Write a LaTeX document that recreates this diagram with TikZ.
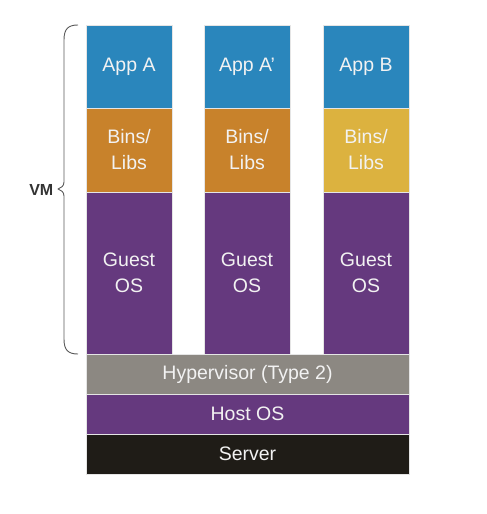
\documentclass[tikz,border=0pt]{standalone}
\usepackage{fontspec}
\setmainfont{Liberation Sans}
\definecolor{appblue}{HTML}{2A86BC}
\definecolor{binorange}{HTML}{C8822B}
\definecolor{binyellow}{HTML}{DCB23F}
\definecolor{ospurple}{HTML}{65397E}
\definecolor{hypgray}{HTML}{8C8882}
\definecolor{srvblack}{HTML}{1F1C17}
\definecolor{txtwhite}{HTML}{F2F2F2}
\definecolor{bracegray}{HTML}{5A5A5A}
\definecolor{vmtext}{HTML}{333333}
\begin{document}
\begin{tikzpicture}[x=1pt,y=-1pt,
  layer/.style={draw=white!80!gray, line width=0.4pt, inner sep=0pt, outer sep=0pt,
    text=txtwhite, font=\fontsize{19.5}{26}\selectfont, align=center, anchor=north west},
]
\useasboundingbox (0,0) rectangle (487,514);
% columns
\foreach \c/\x/\app/\bc in {1/86/App A/binorange, 2/204/App A'/binorange, 3/323/App B/binyellow}{
  \node[layer, fill=appblue, minimum width=86pt, minimum height=83pt] (app\c) at (\x,25) {\app};
  \node[layer, fill=\bc, minimum width=86pt, minimum height=84pt] (bins\c) at (\x,108) {Bins/\\Libs};
  \node[layer, fill=ospurple, minimum width=86pt, minimum height=162pt] (guest\c) at (\x,192) {Guest\\OS};
}
\node[layer, fill=hypgray, minimum width=323pt, minimum height=40pt] (hyp) at (86,354) {Hypervisor (Type 2)};
\node[layer, fill=ospurple, minimum width=323pt, minimum height=40pt] (host) at (86,394) {Host OS};
\node[layer, fill=srvblack, minimum width=323pt, minimum height=40pt] (server) at (86,434) {Server};
% brace
\coordinate (bt) at (78,25);
\coordinate (bb) at (78,354);
\coordinate (tip) at (58,189);
\draw[bracegray, line width=0.9pt, line join=round]
  (bt) .. controls (68,25) and (64,29) .. (64,40) -- (64,182)
  .. controls (64,186) and (61,188) .. (tip)
  .. controls (61,190) and (64,192) .. (64,196) -- (64,339)
  .. controls (64,350) and (68,354) .. (bb);
\node[anchor=east, inner sep=0pt, text=vmtext, font=\bfseries\fontsize{16}{18}\selectfont] (vm) at (53.5,190) {VM};
\end{tikzpicture}
\end{document}
